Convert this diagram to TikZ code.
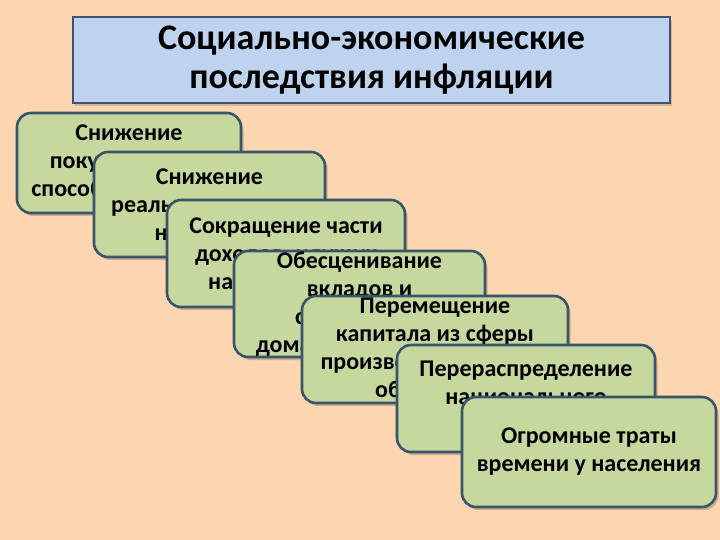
\documentclass[tikz,border=0pt]{standalone}
\usepackage{fontspec}
\setmainfont{Carlito}
\definecolor{bgc}{RGB}{251,214,176}
\definecolor{titlefill}{RGB}{190,212,238}
\definecolor{titledraw}{RGB}{70,78,110}
\definecolor{boxfill}{RGB}{198,216,158}
\definecolor{boxdraw}{RGB}{58,84,106}
\tikzset{
  titlebox/.style={draw=titledraw, line width=2pt, fill=titlefill},
  greenbox/.style={draw=boxdraw, line width=2.6pt, fill=boxfill, rounded corners=14pt},
  boxtext/.style={align=center, font=\bfseries\fontsize{24}{28}\selectfont, inner sep=0pt},
}
\newcommand{\gbox}[6]{%
  \fill[black, opacity=0.18, rounded corners=14pt] (#1+2.5,#2+3) rectangle (#3+2.5,#4+3);
  \draw[greenbox] (#1,#2) rectangle (#3,#4);
  \node[boxtext] (#5) at ({(#1+#3)/2},{(#2+#4)/2}) {#6};
}
\begin{document}
\begin{tikzpicture}[x=1pt,y=-1pt]
\fill[bgc] (0,0) rectangle (720,540);
\useasboundingbox (0,0) rectangle (720,540);
\fill[black, opacity=0.15] (75,20) rectangle (672,106);
\draw[titlebox] (73,17) rectangle (670,103);
\node[align=center, font=\bfseries\fontsize{36}{39}\selectfont, inner sep=0pt] (title) at (371.5,60) {Социально-экономические\\последствия инфляции};
\gbox{17}{113}{241}{213}{b1}{Снижение\\покупательной\\способности денег}
\gbox{94}{152}{325}{257}{b2}{Снижение\\реальных доходов\\населения}
\gbox{167}{200}{405}{307}{b3}{Сокращение части\\доходов, идущих\\на накопления}
\gbox{234}{251}{485}{357}{b4}{Обесценивание\\вкладов и\\сбережений\\домашних хозяйств}
\gbox{302}{296}{568}{403}{b5}{Перемещение\\капитала из сферы\\производства в сферу\\обращения}
\gbox{397}{345}{655}{452}{b6}{Перераспределение\\национального\\дохода}
\gbox{462}{397}{716}{507}{b7}{Огромные траты\\времени у населения}
\end{tikzpicture}
\end{document}
